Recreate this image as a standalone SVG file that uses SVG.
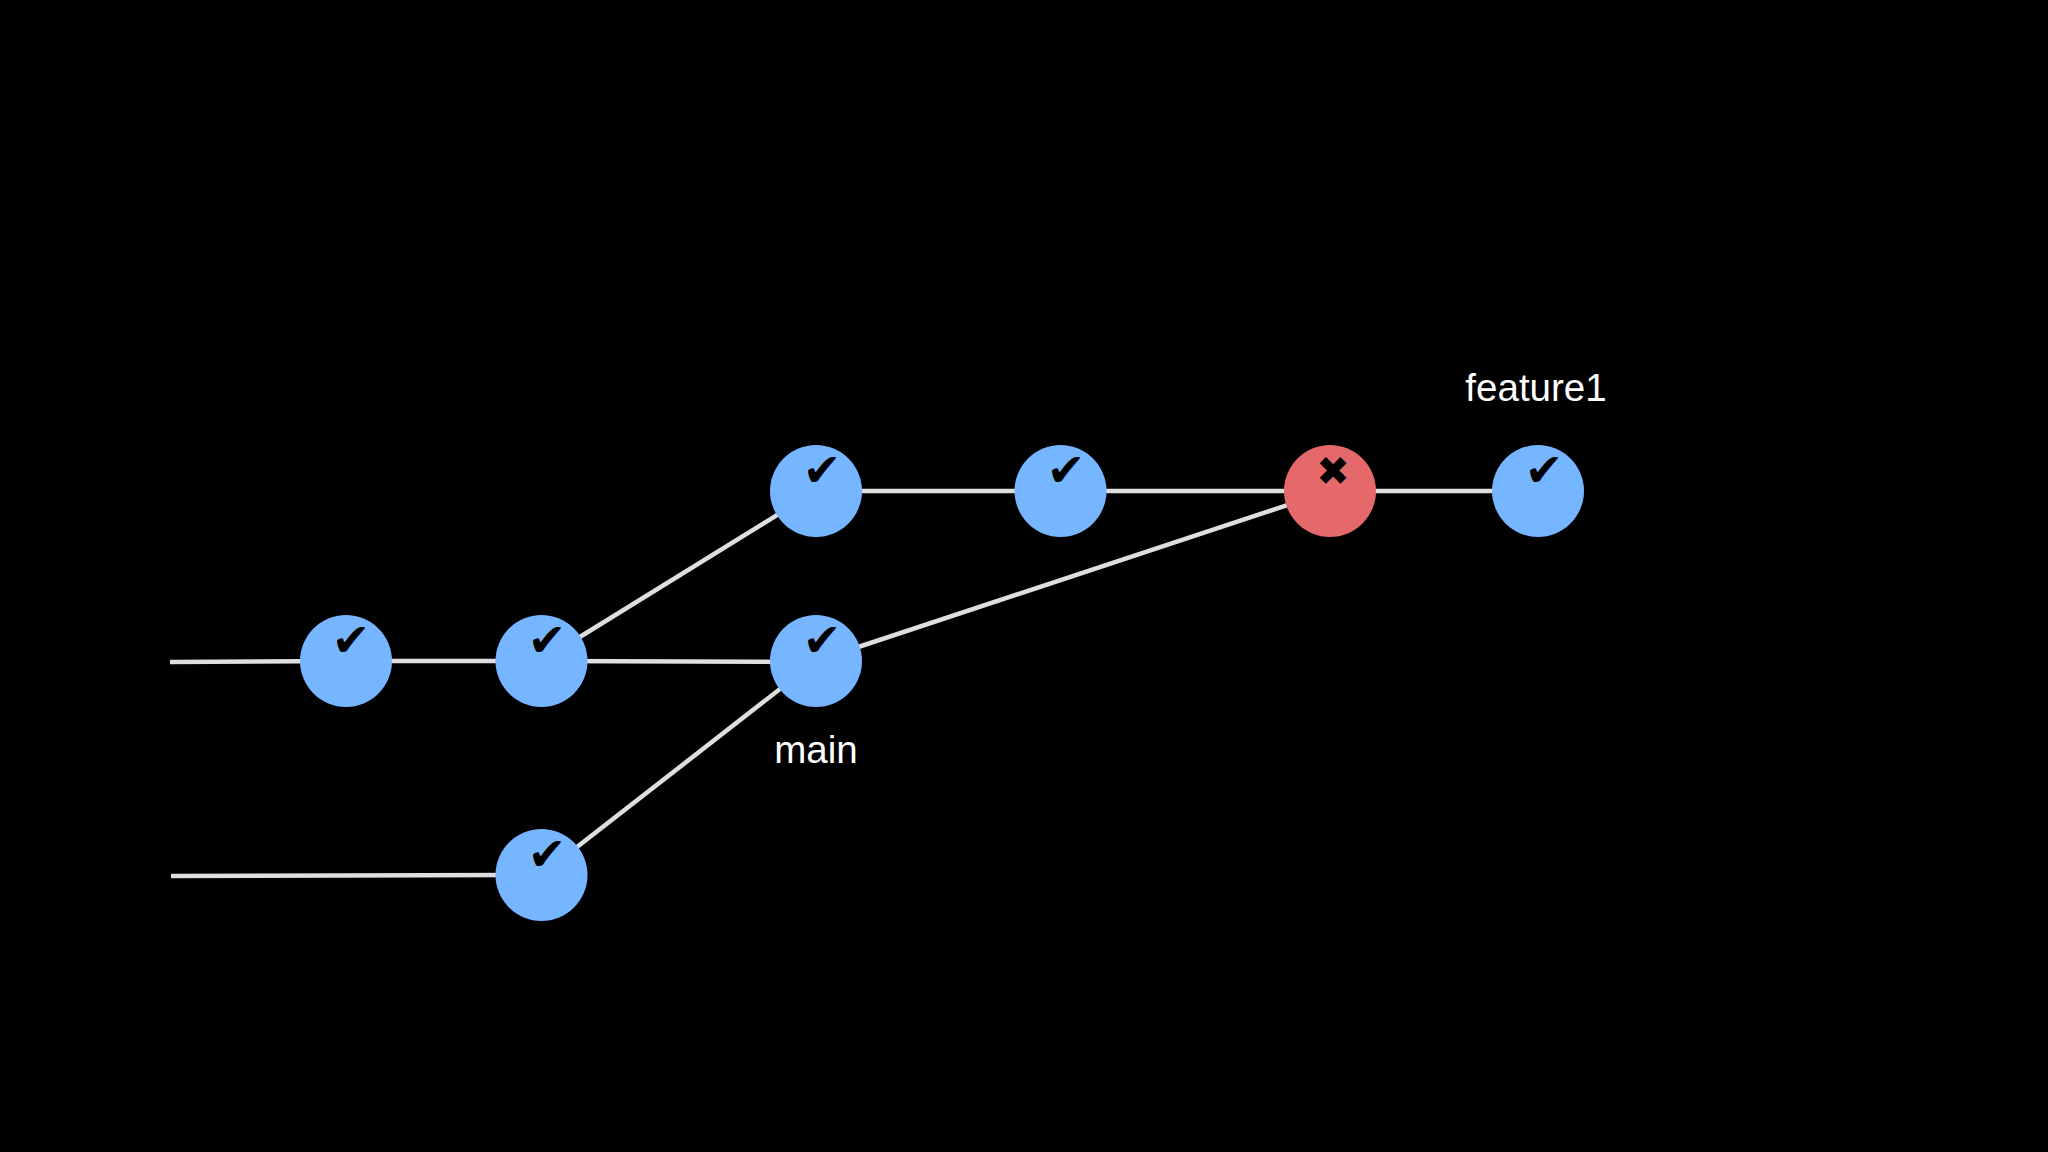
<svg xmlns="http://www.w3.org/2000/svg" width="2048" height="1152" viewBox="0 0 2048 1152">
<style>
.edge{stroke:#dedede;stroke-width:4.5;fill:none}
.ok{fill:#76b5ff}
.bad{fill:#e5696b}
.mark{font-family:"DejaVu Sans",sans-serif;font-size:46px;fill:#000;text-anchor:middle}
.cross{font-size:40px}
.label{font-family:"Liberation Sans",Arial,sans-serif;font-size:38.5px;fill:#fff;text-anchor:middle}
</style>
<rect width="2048" height="1152" fill="#000"/>
<g id="connectors">
<path class="edge" d="M170 662L346 661"/>
<path class="edge" d="M346 661H541"/>
<path class="edge" d="M541 661L816 662"/>
<path class="edge" d="M171 876L541 875"/>
<path class="edge" d="M541 661L816 491"/>
<path class="edge" d="M541 875L816 661"/>
<path class="edge" d="M816 661L1330 491"/>
<path class="edge" d="M816 491H1538"/>
</g>
<g id="n1"><circle class="ok" cx="346" cy="661" r="46"/><text class="mark" x="351" y="656">✔</text></g>
<g id="n2"><circle class="ok" cx="541.5" cy="661" r="46"/><text class="mark" x="547" y="656">✔</text></g>
<g id="n3"><circle class="ok" cx="541.5" cy="875" r="46"/><text class="mark" x="547" y="870">✔</text></g>
<g id="n4"><circle class="ok" cx="816" cy="491" r="46"/><text class="mark" x="822" y="486">✔</text></g>
<g id="n5"><circle class="ok" cx="816" cy="661" r="46"/><text class="mark" x="822" y="656">✔</text></g>
<g id="n6"><circle class="ok" cx="1060.5" cy="491" r="46"/><text class="mark" x="1066" y="486">✔</text></g>
<g id="n7"><circle class="bad" cx="1330" cy="491" r="46"/><text class="mark cross" x="1333" y="485">✖</text></g>
<g id="n8"><circle class="ok" cx="1538" cy="491" r="46"/><text class="mark" x="1544" y="486">✔</text></g>
<text class="label" x="1536" y="401">feature1</text>
<text class="label" x="816" y="763">main</text>
</svg>
